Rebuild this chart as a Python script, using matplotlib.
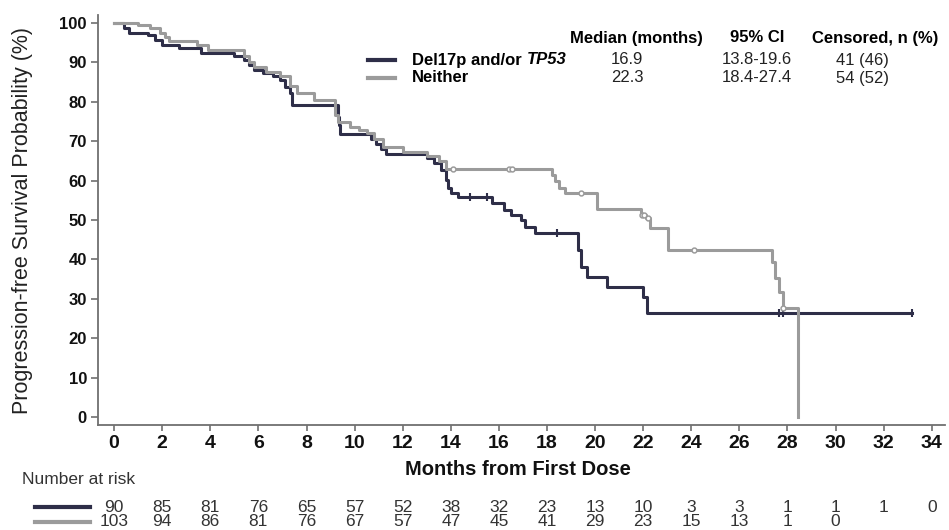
import matplotlib
matplotlib.use('Agg')
import matplotlib.pyplot as plt
import matplotlib.transforms as mtransforms
import numpy as np

plt.rcParams['font.family'] = ['Liberation Sans', 'DejaVu Sans']

# Kaplan-Meier steps: time (months) where survival drops, survival (%) after the drop
del17p_t = [0, 0.4, 0.6, 1.4, 1.7, 2.0, 2.7, 3.6, 5.0, 5.4, 5.6, 5.8, 6.2, 6.6, 6.9, 7.1, 7.3, 7.4,
            9.3, 9.35, 9.4, 10.7, 10.9, 11.1, 11.3, 13.0, 13.3, 13.6, 13.8, 13.9, 14.0, 14.3,
            15.7, 16.2, 16.5, 16.9, 17.1, 17.5, 19.3, 19.4, 19.65, 20.5, 22.0, 22.15, 33.17]
del17p_s = [100, 98.6, 97.5, 96.9, 95.7, 94.4, 93.6, 92.3, 91.5, 90.6, 89.3, 88.1, 87.2, 86.4, 85.5, 83.8, 82.1, 79.2,
            76.2, 74.1, 71.9, 70.5, 69.2, 67.9, 66.7, 65.7, 64.4, 62.7, 60.2, 58.0, 56.8, 55.7,
            54.2, 52.5, 51.3, 50.0, 48.3, 46.6, 42.4, 38.1, 35.6, 33.1, 30.5, 26.3, 26.3]
del17p_cens = [14.8, 15.5, 18.4, 27.65, 27.8, 33.17]

neither_t = [0, 1.0, 1.5, 1.9, 2.1, 2.3, 3.45, 3.9, 5.4, 5.6, 5.8, 6.3, 6.9, 7.3, 7.6, 8.3,
             9.2, 9.3, 9.8, 10.2, 10.5, 10.8, 11.2, 12.0, 13.0, 13.5, 13.8, 18.2, 18.35, 18.5, 18.75,
             20.1, 21.9, 22.1, 22.3, 23.05, 27.35, 27.5, 27.65, 27.8, 28.44]
neither_s = [100, 99.5, 98.6, 97.4, 96.3, 95.3, 94.4, 93.1, 91.5, 90.2, 88.9, 87.6, 86.4, 84.0, 82.2, 80.5,
             76.5, 74.9, 73.7, 72.9, 72.0, 70.5, 68.5, 67.3, 66.3, 65.0, 62.9, 61.4, 60.0, 58.0, 56.8,
             52.8, 51.3, 50.6, 47.9, 42.4, 39.4, 35.2, 31.8, 27.7, 0]
neither_cens = [14.1, 16.4, 16.55, 19.4, 21.95, 22.05, 22.2, 24.1, 27.8]

risk_times = list(range(0, 36, 2))
risk_del17p = [90, 85, 81, 76, 65, 57, 52, 38, 32, 23, 13, 10, 3, 3, 1, 1, 1, 0]
risk_neither = [103, 94, 86, 81, 76, 67, 57, 47, 45, 41, 29, 23, 15, 13, 1, 0]

groups = ['Del17p and/or ', 'Neither']
medians = ['16.9', '22.3']
ci95 = ['13.8-19.6', '18.4-27.4']
censored = ['41 (46)', '54 (52)']

c_dark = '#2e2e48'
c_gray = '#9b9b9b'
c_axis = '#707070'
narrow = ['Liberation Sans Narrow', 'Liberation Sans', 'DejaVu Sans']

W, H = 949, 530
fig = plt.figure(figsize=(W / 100, H / 100), dpi=100)


def fx(px):
    return px / W


def fy(py):
    return 1 - py / H


ax = fig.add_axes([fx(98), fy(425), fx(945) - fx(98), fy(15) - fy(425)])


def surv_at(times, surv, t):
    idx = np.searchsorted(times, t, side='right') - 1
    return np.asarray(surv)[idx]


ax.step(del17p_t, del17p_s, where='post', color=c_dark, lw=2.2, zorder=3)
ax.step(neither_t, neither_s, where='post', color=c_gray, lw=2.2, zorder=4)
ax.plot(del17p_cens, surv_at(del17p_t, del17p_s, del17p_cens), ls='none', marker='|',
        ms=6, mew=1.5, color=c_dark, zorder=5)
ax.plot(neither_cens, surv_at(neither_t, neither_s, neither_cens), ls='none', marker='o',
        ms=3.5, mew=1.1, mfc='white', mec=c_gray, zorder=5)

ax.set_xlim(-0.67, 34.55)
ax.set_ylim(-2.03, 102)
ax.set_xticks(risk_times)
ax.set_yticks(range(0, 101, 10))
for s in ['top', 'right']:
    ax.spines[s].set_visible(False)
for s in ['left', 'bottom']:
    ax.spines[s].set_color(c_axis)
    ax.spines[s].set_linewidth(1.3)
ax.tick_params(axis='y', length=5, width=1.2, color=c_axis, pad=3, labelsize=12)
ax.tick_params(axis='x', length=4, width=1.2, color=c_axis, pad=3, labelsize=14)
for lab in ax.get_yticklabels():
    lab.set_fontweight('bold')
    lab.set_color('#111111')
for lab in ax.get_xticklabels():
    lab.set_fontweight('bold')
    lab.set_family(narrow)
    lab.set_color('#111111')

ax.set_ylabel('Progression-free Survival Probability (%)', fontsize=15.5, color='#222222')
ax.yaxis.set_label_coords(-0.077, 0.5)
ax.set_xlabel('Months from First Dose', fontsize=14.5, fontweight='bold', color='#111111')
ax.xaxis.set_label_coords(0.496, -0.085)

# median / CI / censored table
fs = 12
hdr_y = fy(38)
fig.text(fx(636), hdr_y, 'Median (months)', ha='center', va='center', fontsize=fs, fontweight='bold')
fig.text(fx(757), hdr_y, '95% CI', ha='center', va='center', fontsize=fs, fontweight='bold')
fig.text(fx(875), hdr_y, 'Censored, n (%)', ha='center', va='center', fontsize=fs, fontweight='bold')

for i, (col, py) in enumerate([(c_dark, 60), (c_gray, 78)]):
    y = fy(py)
    fig.add_artist(plt.Line2D([fx(368), fx(395)], [y, y], color=col, lw=3))
    t = fig.text(fx(412), y, groups[i], ha='left', va='center', fontsize=fs, fontweight='bold')
    if i == 0:
        ax.annotate('TP53', xy=(1, 0.5), xycoords=t, ha='left', va='center', fontsize=fs,
                    fontweight='bold', fontstyle='italic', annotation_clip=False)
    fig.text(fx(627), y, medians[i], ha='center', va='center', fontsize=fs, color='#222222')
    fig.text(fx(757), y, ci95[i], ha='center', va='center', fontsize=fs, color='#222222')
    fig.text(fx(862), y, censored[i], ha='center', va='center', fontsize=fs, color='#222222')

# number at risk table
fig.text(fx(22), fy(480), 'Number at risk', ha='left', va='center', fontsize=12.5, color='#333333')
blend = mtransforms.blended_transform_factory(ax.transData, fig.transFigure)
for counts, col, py in [(risk_del17p, c_dark, 507), (risk_neither, c_gray, 522)]:
    y = fy(py)
    fig.add_artist(plt.Line2D([fx(35), fx(90)], [y, y], color=col, lw=3))
    for tm, n in zip(risk_times, counts):
        fig.text(tm, y, str(n), transform=blend, ha='center', va='center', fontsize=12.5, color='#333333')

fig.savefig('out.png', dpi=100)
